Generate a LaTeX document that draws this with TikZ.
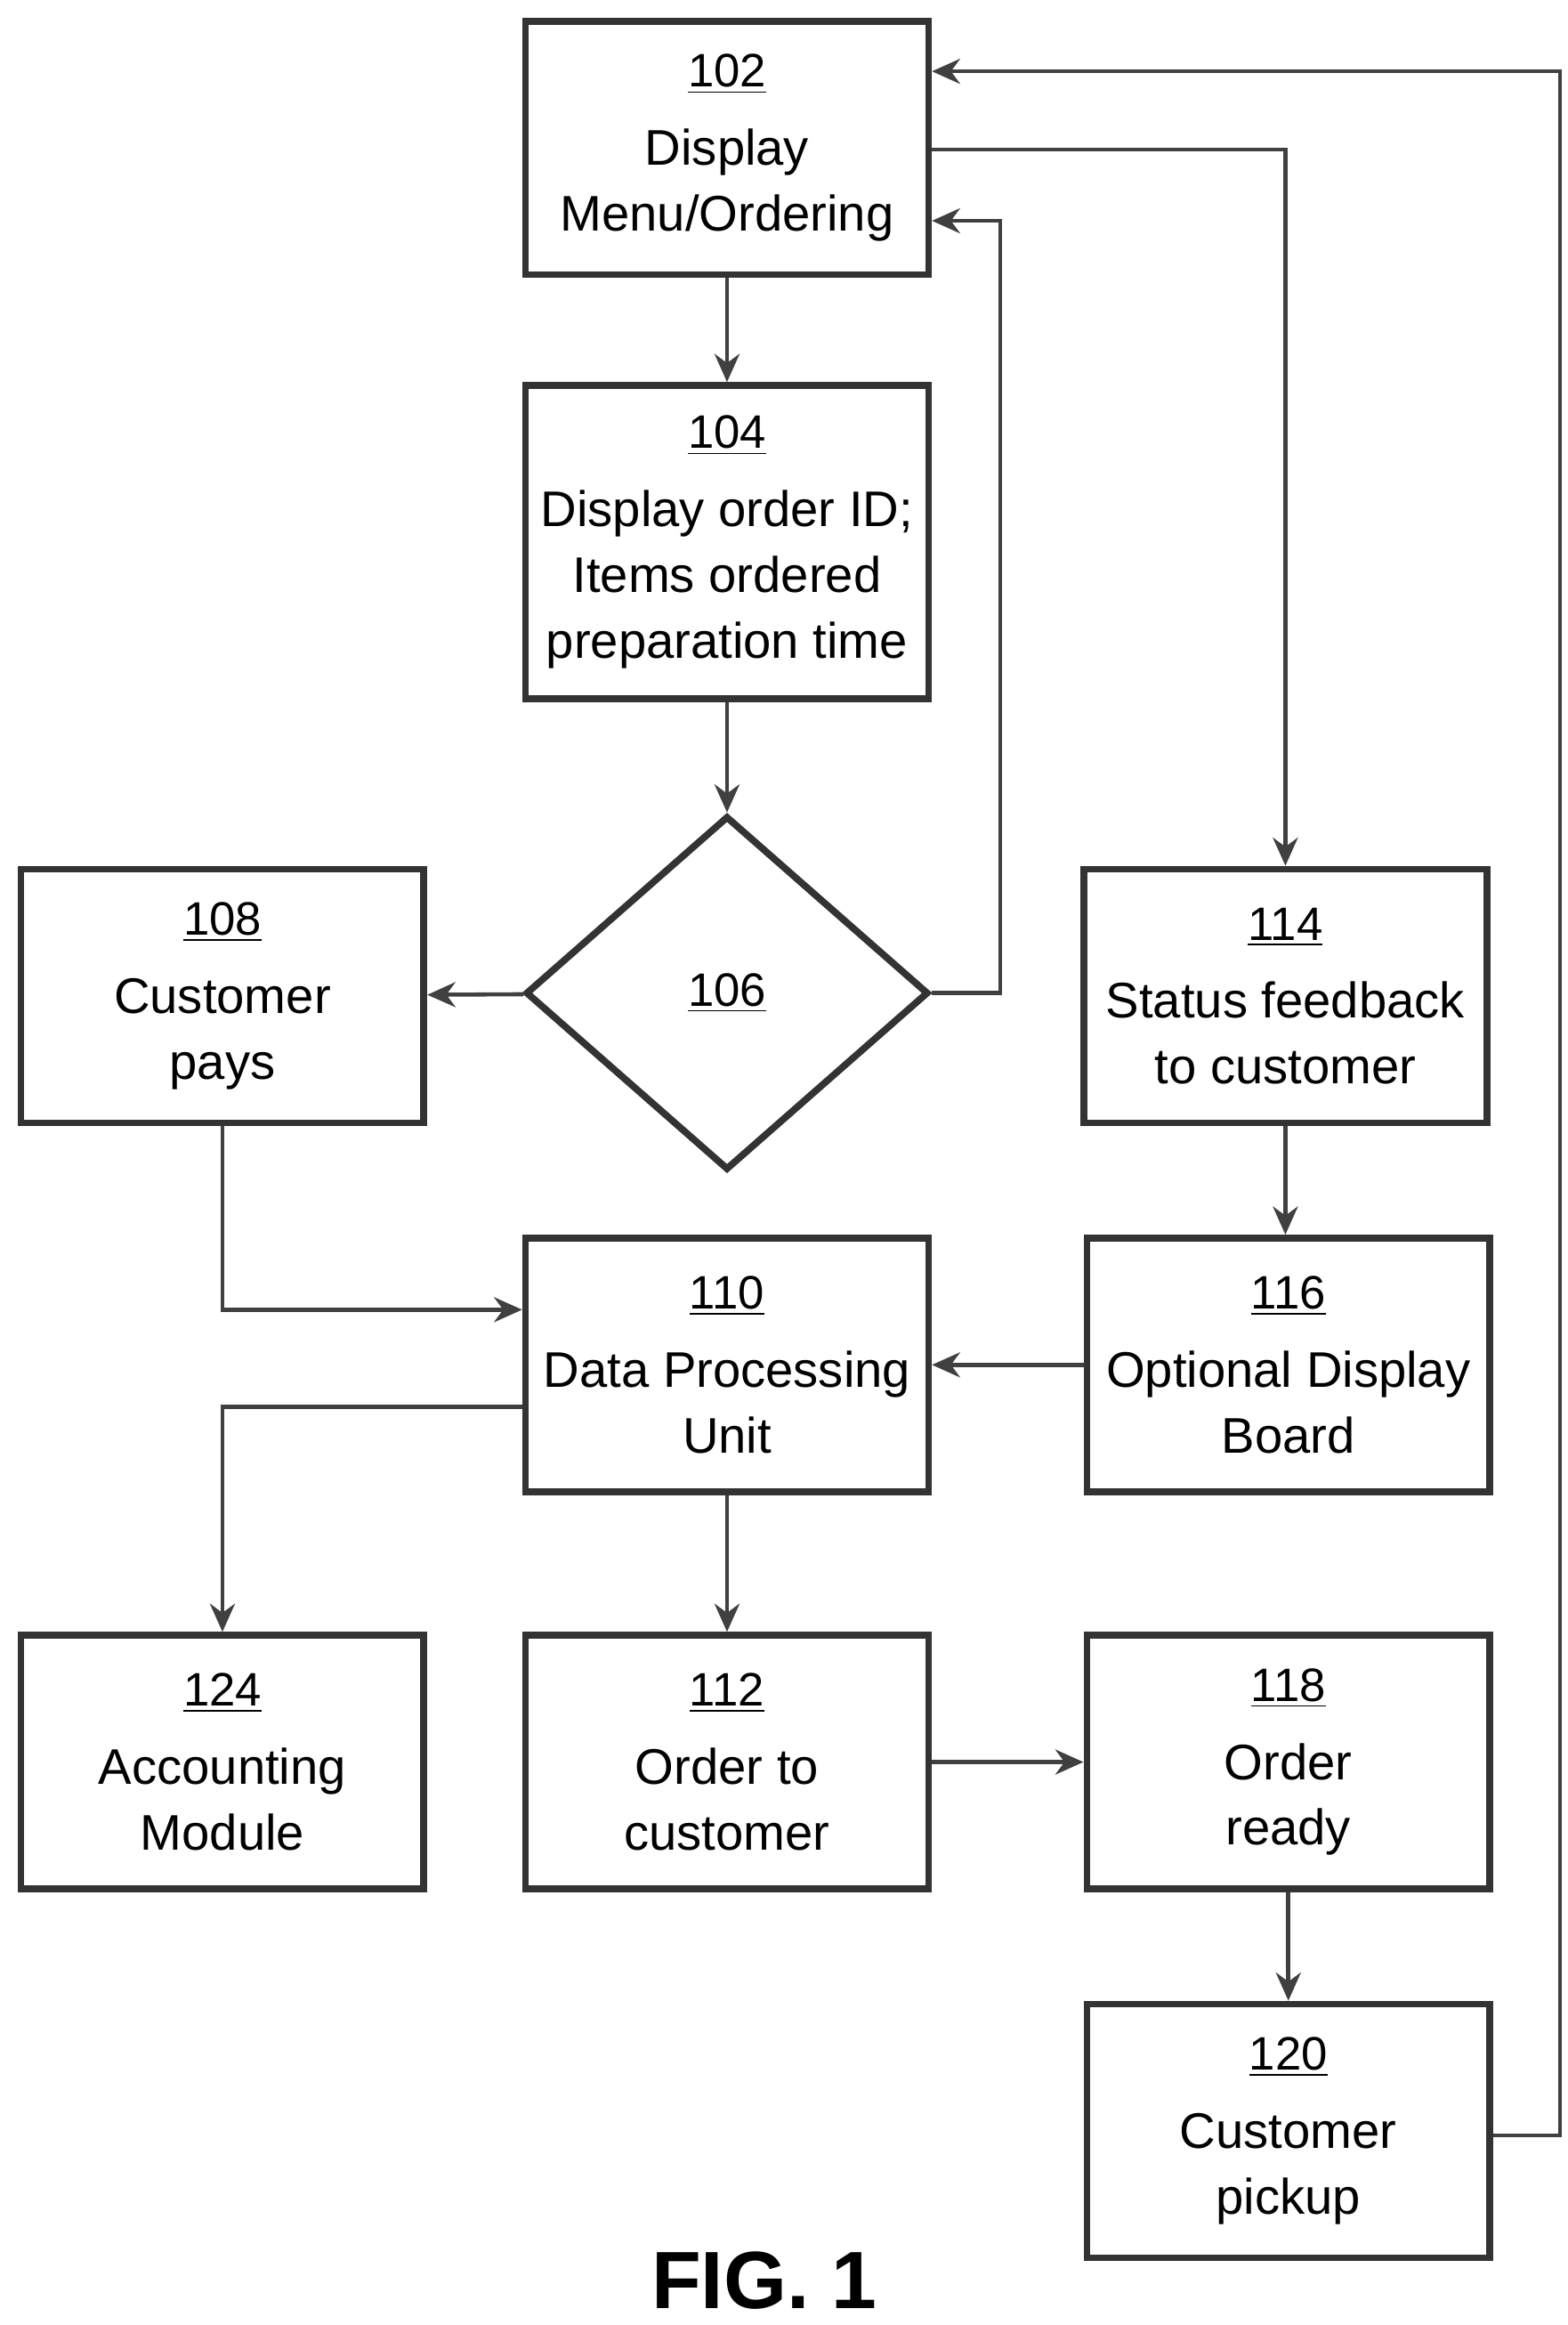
\documentclass[tikz,border=0pt]{standalone}
\usepackage{fontspec}
\setmainfont{Liberation Sans}
\usetikzlibrary{shapes.geometric,arrows.meta}
\tikzset{
	blk/.style={draw=black!80, line width=2.2pt, minimum width=4.53cm, minimum height=2.85cm, align=center, font=\fontsize{16}{21}\selectfont, inner xsep=0pt, inner ysep=3pt},
	flow/.style={draw=black!75, line width=1.3pt, -{Stealth[length=9pt,width=8pt]}},
}
\newcommand{\lbl}[2]{\fontsize{15}{18}\selectfont\underline{#1}\\[4pt]\fontsize{16}{21}\selectfont #2}

\begin{document}
\begin{tikzpicture}[x=0.01678cm, y=-0.01678cm]
	\useasboundingbox (0,0) rectangle (1050,1557);
	\node[blk] (b102) at (487,99) {\lbl{102}{Display\\Menu/Ordering}};
	\node[blk, minimum height=3.52cm] (b104) at (487,363) {\lbl{104}{Display order ID;\\Items ordered\\preparation time}};
	\node[draw=black!80, line width=2.2pt, diamond, minimum width=4.53cm, minimum height=3.98cm, inner sep=0pt, font=\fontsize{15}{18}\selectfont] (b106) at (487,665) {\underline{106}};
	\node[blk] (b108) at (149,667) {\lbl{108}{Customer\\pays}};
	\node[blk] (b114) at (861,667) {\lbl{114}{Status feedback\\to customer}};
	\node[blk] (b110) at (487,914) {\lbl{110}{Data Processing\\Unit}};
	\node[blk] (b116) at (863,914) {\lbl{116}{Optional Display\\Board}};
	\node[blk] (b124) at (149,1180) {\lbl{124}{Accounting\\Module}};
	\node[blk] (b112) at (487,1180) {\lbl{112}{Order to\\customer}};
	\node[blk] (b118) at (863,1180) {\lbl{118}{Order\\ready}};
	\node[blk] (b120) at (863,1427) {\lbl{120}{Customer\\pickup}};
	\node[font=\bfseries\fontsize{26}{30}\selectfont] (fig) at (512,1527) {FIG. 1};

	\coordinate (c1) at (670,665);
	\coordinate (c2) at (861,100);
	\coordinate (c3) at (1045,1430);

	\draw[flow] (b102) -- (b104);
	\draw[flow] (b104) -- (b106);
	\draw[flow] (b106) -- (b108);
	\draw[flow] (b106.east) -- (c1) |- ([yshift=-0.82cm]b102.east);
	\draw[flow] ([yshift=-0.02cm]b102.east) -| (b114.north -| c2);
	\draw[flow] (b108) |- ([yshift=0.62cm]b110.west);
	\draw[flow] (b114.south) -- (b116.north -| b114.south);
	\draw[flow] (b116) -- (b110);
	\draw[flow] ([yshift=-0.47cm]b110.west) -| (b124);
	\draw[flow] (b110) -- (b112);
	\draw[flow] (b112) -- (b118);
	\draw[flow] (b118) -- (b120);
	\draw[flow] (b120.east |- c3) -- (c3) |- ([yshift=0.86cm]b102.east);
\end{tikzpicture}
\end{document}
